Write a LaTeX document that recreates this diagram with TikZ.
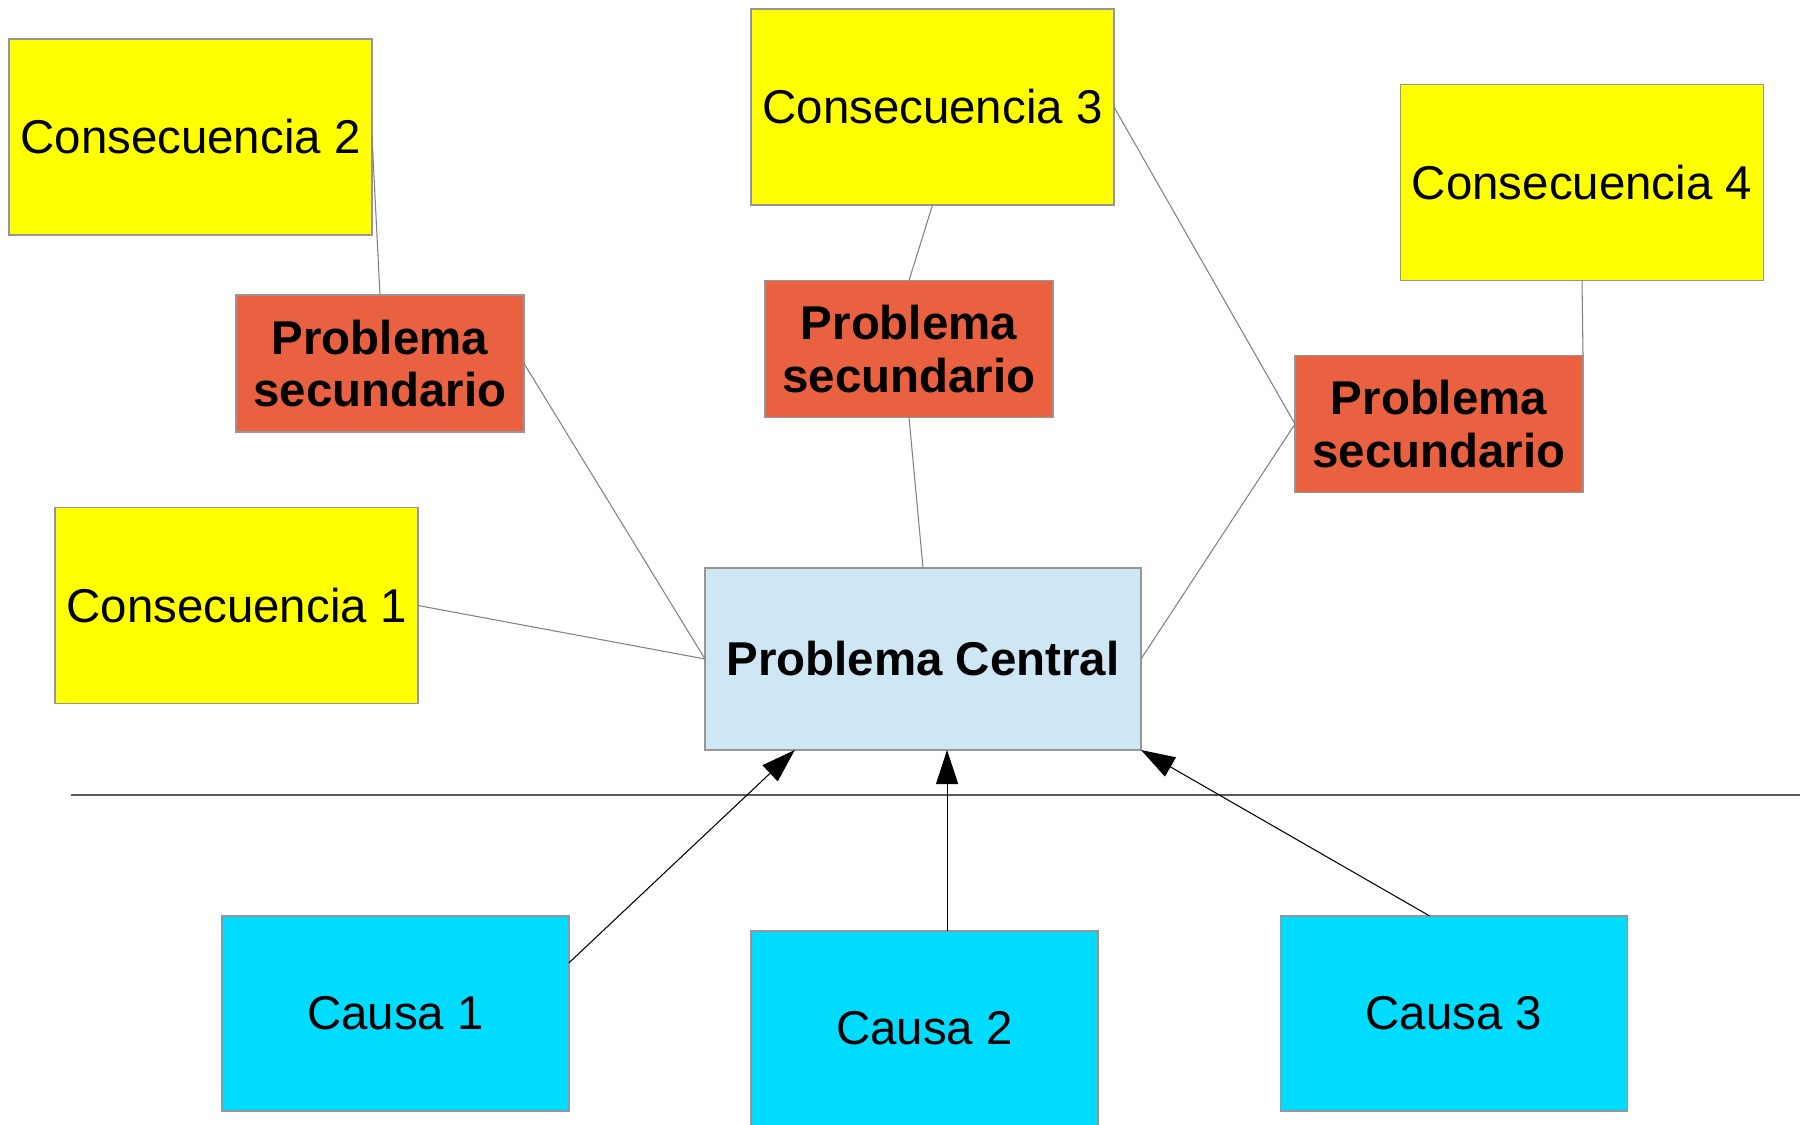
\documentclass[tikz,border=0pt]{standalone}
\usepackage{fontspec}
\setmainfont{Liberation Sans}
\usetikzlibrary{shapes,arrows.meta,calc}
\definecolor{consYellow}{RGB}{255,255,0}
\definecolor{probRed}{RGB}{233,97,65}
\definecolor{centralBlue}{RGB}{207,230,244}
\definecolor{causeCyan}{RGB}{0,220,255}
\definecolor{boxGray}{RGB}{150,150,150}
\definecolor{linkGray}{RGB}{128,128,128}
\definecolor{axisGray}{RGB}{90,90,90}

\begin{document}
\begin{tikzpicture}[auto]%
  \tikzset{thin link/.style={draw,linkGray,line width=0.6pt},
           cause arrow/.style={draw,black,line width=0.6pt,-{Triangle[length=0.68cm,width=0.44cm]}}}
  \tikzstyle{every node}=[draw=boxGray, line width=0.6pt, rectangle, text=black, inner sep=0pt, outer sep=0pt, align=center, font=\fontsize{27}{30}\selectfont]
  \tikzstyle{conseq}=[fill=consYellow, minimum width=7.26cm, minimum height=3.92cm]
  \tikzstyle{secondary}=[fill=probRed, minimum width=5.76cm, minimum height=2.74cm, font=\fontsize{27}{30}\selectfont\bfseries]
  \tikzstyle{cause}=[fill=causeCyan, minimum width=6.94cm, minimum height=3.9cm]

  \useasboundingbox (0,0) rectangle (36,22.48);

  \node[conseq] at (3.81,19.74) (C2) {Consecuencia 2};
  \node[conseq] at (18.65,20.34) (C3) {Consecuencia 3};
  \node[conseq] at (31.64,18.83) (C4) {Consecuencia 4};
  \node[conseq] at (4.73,10.37) (C1) {Consecuencia 1};
  \node[secondary] at (7.60,15.21) (PS1) {Problema\\secundario};
  \node[secondary] at (18.18,15.50) (PS2) {Problema\\secundario};
  \node[secondary] at (28.78,14.00) (PS3) {Problema\\secundario};
  \node[fill=centralBlue, minimum width=8.72cm, minimum height=3.64cm, font=\fontsize{27}{30}\selectfont\bfseries] at (18.46,9.30) (PC) {Problema Central};
  \node[cause] at (7.91,2.21) (CA1) {Causa 1};
  \node[cause] at (18.49,1.91) (CA2) {Causa 2};
  \node[cause] at (29.08,2.21) (CA3) {Causa 3};

  \coordinate (AL) at (1.42,6.58);
  \coordinate (AR) at (36,6.58);
  \draw[axisGray, line width=1.1pt] (AL) -- (AR);

  \path[thin link] (C1.east) edge (PC.west);
  \path[thin link] (PS1.east) edge (PC.west);
  \path[thin link] (C2.east) edge (PS1.north);
  \path[thin link] (C3.south) edge (PS2.north);
  \path[thin link] (PS2.south) edge (PC.north);
  \path[thin link] (C3.east) edge (PS3.west);
  \path[thin link] (PC.east) edge (PS3.west);
  \path[thin link] (C4.south) edge (PS3.north east);

  \coordinate (A2) at ($(CA2.north west)!0.565!(CA2.north east)$);
  \path ($(CA1.north east)!0.24!(CA1.south east)$) edge[cause arrow] ($(PC.south west)!0.206!(PC.south east)$);
  \path (A2) edge[cause arrow] (A2 |- PC.south);
  \path ($(CA3.north west)!0.43!(CA3.north east)$) edge[cause arrow] (PC.south east);
\end{tikzpicture}
\end{document}
